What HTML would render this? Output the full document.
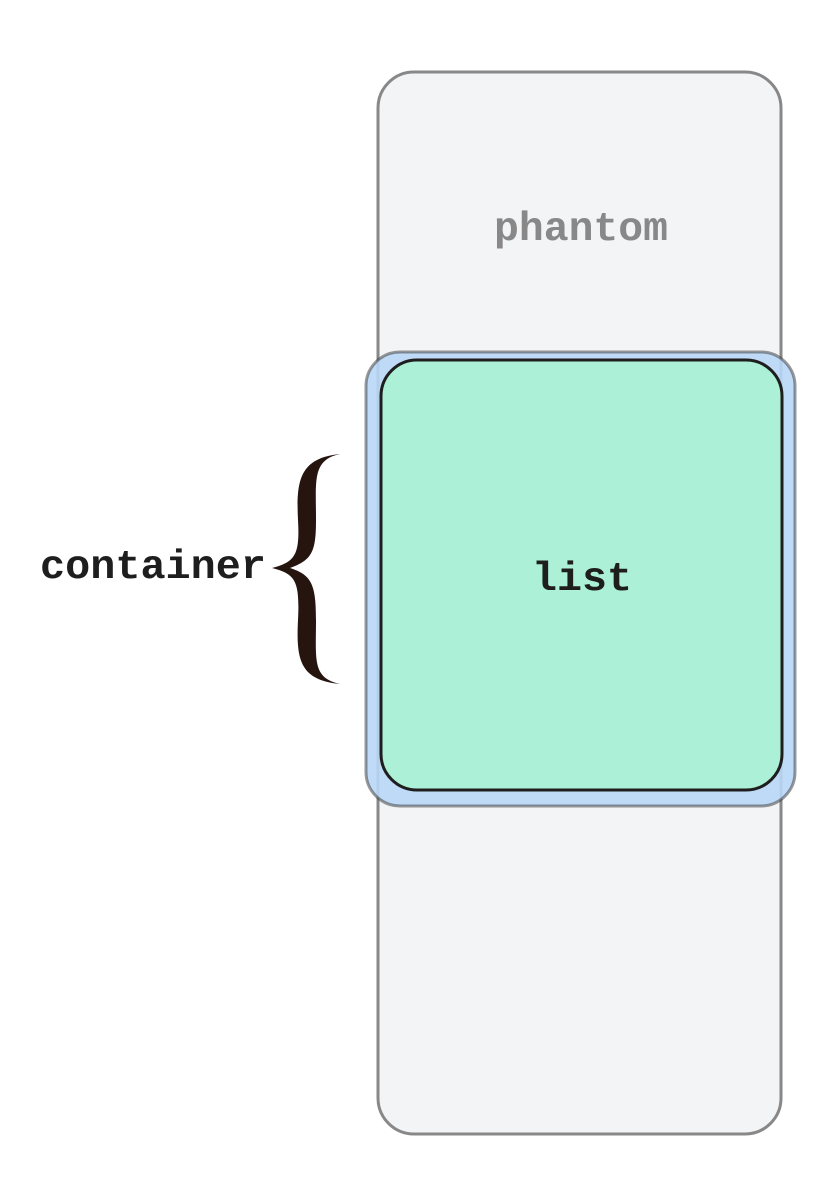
<!DOCTYPE html>
<html><head><meta charset="utf-8"><style>
html,body{margin:0;padding:0;background:#fff;width:828px;height:1190px;overflow:hidden}
</style></head><body>
<svg width="828" height="1190" viewBox="0 0 828 1190" xmlns="http://www.w3.org/2000/svg">
<rect x="378" y="72" width="403" height="1062" rx="36" fill="#f3f4f6" stroke="#888" stroke-width="3"/>
<text x="494" y="240" textLength="174" lengthAdjust="spacingAndGlyphs" font-family="Liberation Mono, monospace" font-weight="bold" font-size="41" fill="#888">phantom</text>
<rect x="366" y="352" width="429" height="454" rx="34" fill="#b9d7f7" fill-opacity="0.9" stroke="#333" stroke-opacity="0.5" stroke-width="3"/>
<rect x="381" y="360" width="401" height="430" rx="36" fill="#adf0d8" stroke="#1e1e1e" stroke-width="3"/>
<text x="532" y="590" textLength="100" lengthAdjust="spacingAndGlyphs" font-family="Liberation Mono, monospace" font-weight="bold" font-size="41" fill="#1e1e1e">list</text>
<text x="40" y="578" textLength="226" lengthAdjust="spacingAndGlyphs" font-family="Liberation Mono, monospace" font-weight="bold" font-size="41" fill="#1e1e1e">container</text>
<path d="M340 454 C300 458,296 480,298 520 C300 555,295 562,272 568 C295 574,300 580,298 620 C296 660,300 680,340 684 C312 678,316 660,316 620 C316 585,312 575,290 568 C312 560,316 552,316 520 C316 480,312 460,340 454 Z" fill="#26150e"/>
</svg>
</body></html>
